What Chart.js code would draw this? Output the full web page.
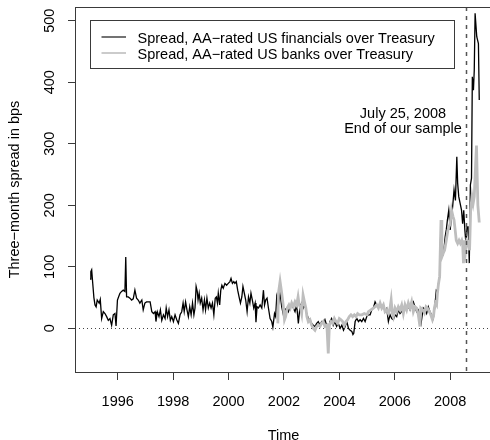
<!DOCTYPE html>
<html>
<head>
<meta charset="utf-8">
<script src="https://cdn.jsdelivr.net/npm/chart.js"></script>
<style>
    html, body { margin: 0; padding: 0; background: #fff; overflow: hidden; }
    #wrap { width: 492px; height: 440px; }
</style>
</head>
<body>
<div id="wrap"><canvas id="spread-chart" width="492" height="440"></canvas></div>
<script>
// Spread, AA-rated US financials over Treasury (bps)
const finYears = [
    1995.00, 1995.03, 1995.06, 1995.10, 1995.14, 1995.18, 1995.22, 1995.26, 1995.33, 1995.37,
    1995.42, 1995.48, 1995.54, 1995.60, 1995.66, 1995.72, 1995.78, 1995.84, 1995.90, 1995.94,
    1995.99, 1996.03, 1996.08, 1996.14, 1996.20, 1996.26, 1996.29, 1996.32, 1996.38, 1996.44,
    1996.50, 1996.56, 1996.62, 1996.68, 1996.74, 1996.80, 1996.87, 1996.92, 1996.98, 1997.04,
    1997.10, 1997.17, 1997.23, 1997.29, 1997.35, 1997.38, 1997.43, 1997.49, 1997.54, 1997.59,
    1997.65, 1997.71, 1997.75, 1997.80, 1997.85, 1997.90, 1997.95, 1998.01, 1998.07, 1998.13,
    1998.19, 1998.25, 1998.31, 1998.36, 1998.40, 1998.45, 1998.50, 1998.55, 1998.60, 1998.65,
    1998.70, 1998.75, 1998.79, 1998.83, 1998.87, 1998.90, 1998.94, 1998.98, 1999.03, 1999.08,
    1999.13, 1999.17, 1999.22, 1999.27, 1999.32, 1999.37, 1999.42, 1999.47, 1999.52, 1999.56,
    1999.60, 1999.63, 1999.68, 1999.72, 1999.76, 1999.81, 1999.87, 1999.93, 1999.99, 2000.05,
    2000.09, 2000.14, 2000.19, 2000.23, 2000.28, 2000.33, 2000.38, 2000.43, 2000.48, 2000.52,
    2000.57, 2000.62, 2000.67, 2000.72, 2000.77, 2000.81, 2000.86, 2000.91, 2000.96, 2000.99,
    2001.03, 2001.08, 2001.14, 2001.20, 2001.26, 2001.30, 2001.34, 2001.39, 2001.44, 2001.50,
    2001.56, 2001.60, 2001.66, 2001.70, 2001.74, 2001.80, 2001.86, 2001.92, 2001.98, 2002.04,
    2002.10, 2002.16, 2002.22, 2002.28, 2002.34, 2002.40, 2002.46, 2002.52, 2002.58, 2002.64,
    2002.70, 2002.76, 2002.82, 2002.88, 2002.94, 2003.00, 2003.06, 2003.12, 2003.18, 2003.24,
    2003.30, 2003.36, 2003.42, 2003.48, 2003.54, 2003.60, 2003.66, 2003.72, 2003.78, 2003.84,
    2003.90, 2003.96, 2004.03, 2004.09, 2004.15, 2004.21, 2004.27, 2004.33, 2004.39, 2004.45,
    2004.49, 2004.52, 2004.57, 2004.63, 2004.69, 2004.75, 2004.81, 2004.87, 2004.93, 2004.99,
    2005.05, 2005.11, 2005.17, 2005.23, 2005.29, 2005.35, 2005.41, 2005.47, 2005.53, 2005.59,
    2005.65, 2005.71, 2005.77, 2005.83, 2005.89, 2005.95, 2006.01, 2006.07, 2006.13, 2006.19,
    2006.25, 2006.31, 2006.37, 2006.43, 2006.49, 2006.55, 2006.61, 2006.67, 2006.73, 2006.79,
    2006.85, 2006.91, 2006.95, 2007.03, 2007.09, 2007.15, 2007.21, 2007.27, 2007.33, 2007.39,
    2007.44, 2007.50, 2007.54, 2007.58, 2007.62, 2007.67, 2007.70, 2007.74, 2007.78, 2007.82,
    2007.86, 2007.90, 2007.95, 2008.00, 2008.05, 2008.09, 2008.14, 2008.19, 2008.24, 2008.27,
    2008.31, 2008.36, 2008.41, 2008.45, 2008.49, 2008.53, 2008.57, 2008.61, 2008.65, 2008.69,
    2008.73, 2008.77, 2008.80, 2008.84, 2008.87, 2008.90, 2008.96, 2009.02, 2009.05
];
const finSpread = [
    80, 92, 95, 72, 50, 38, 35, 46, 41, 47,
    16, 27, 24, 19, 13, 16, 5, 22, 24, 4,
    46, 51, 57, 60, 62, 60, 116, 51, 51, 49,
    46, 48, 62, 49, 46, 41, 46, 30, 41, 43,
    43, 43, 27, 24, 27, 11, 27, 19, 30, 13,
    22, 16, 33, 19, 30, 13, 19, 11, 22, 14,
    8, 22, 27, 41, 27, 43, 30, 19, 35, 22,
    41, 22, 33, 68, 60, 46, 57, 41, 49, 30,
    46, 30, 49, 33, 41, 33, 41, 22, 49, 51,
    41, 57, 38, 62, 70, 65, 73, 70, 73, 76,
    81, 73, 76, 73, 76, 62, 51, 41, 51, 68,
    57, 46, 27, 51, 41, 57, 46, 33, 41, 10,
    35, 33, 38, 33, 62, 38, 46, 49, 33, 16,
    11, 2, 24, 19, 51, 38, 57, 35, 22, 30,
    33, 27, 35, 38, 33, 27, 38, 8, 35, 41,
    33, 38, 24, 16, 14, 8, 5, 3, 8, 11,
    5, 11, 8, 14, 5, -3, 11, 16, 5, 11,
    3, 8, 0, 5, -3, 3, 11, 0, -3, -5,
    -10, -8, 11, 16, 11, 14, 11, 16, 11, 19,
    22, 22, 30, 33, 43, 38, 35, 41, 32, 38,
    27, 32, 11, 22, 16, 14, 22, 19, 30, 24,
    27, 32, 35, 30, 35, 30, 38, 43, 35, 27,
    30, 16, 8, 33, 30, 24, 35, 27, 22, 16,
    33, 62, 60, 73, 84, 176, 116, 119, 130, 149,
    160, 176, 192, 160, 181, 198, 225, 208, 279, 236,
    214, 203, 192, 170, 192, 160, 138, 165, 165, 106,
    233, 244, 409, 387, 420, 512, 474, 463, 371
];

// Spread, AA-rated US banks over Treasury (bps)
const bankYears = [
    2001.78, 2001.80, 2001.86, 2001.92, 2001.98, 2002.02, 2002.06, 2002.12, 2002.18, 2002.23,
    2002.28, 2002.34, 2002.40, 2002.46, 2002.51, 2002.55, 2002.60, 2002.64, 2002.69, 2002.74,
    2002.79, 2002.83, 2002.88, 2002.94, 2003.00, 2003.06, 2003.12, 2003.18, 2003.24, 2003.30,
    2003.36, 2003.42, 2003.48, 2003.55, 2003.60, 2003.64, 2003.70, 2003.76, 2003.82, 2003.88,
    2003.94, 2004.00, 2004.06, 2004.12, 2004.18, 2004.24, 2004.30, 2004.36, 2004.42, 2004.48,
    2004.54, 2004.60, 2004.66, 2004.72, 2004.81, 2004.90, 2005.00, 2005.05, 2005.14, 2005.23,
    2005.29, 2005.35, 2005.41, 2005.47, 2005.53, 2005.59, 2005.65, 2005.71, 2005.77, 2005.83,
    2005.87, 2005.91, 2005.95, 2006.01, 2006.07, 2006.13, 2006.19, 2006.25, 2006.31, 2006.37,
    2006.43, 2006.49, 2006.55, 2006.61, 2006.67, 2006.73, 2006.79, 2006.85, 2006.91, 2006.94,
    2007.01, 2007.07, 2007.13, 2007.19, 2007.25, 2007.30, 2007.36, 2007.40, 2007.43, 2007.47,
    2007.51, 2007.54, 2007.58, 2007.62, 2007.67, 2007.70, 2007.75, 2007.80, 2007.86, 2007.92,
    2008.00, 2008.05, 2008.10, 2008.14, 2008.18, 2008.22, 2008.27, 2008.32, 2008.37, 2008.42,
    2008.45, 2008.48, 2008.52, 2008.56, 2008.60, 2008.65, 2008.70, 2008.74, 2008.79, 2008.83,
    2008.87, 2008.92, 2008.95, 2009.00, 2009.05
];
const bankSpread = [
    8, 57, 76, 57, 35, 14, 19, 33, 38, 33,
    41, 35, 43, 38, 51, 38, 33, 24, 54, 43,
    33, 19, 11, 14, 5, 0, -3, 3, 5, 3,
    8, 11, 3, 5, -41, 5, 11, 8, 16, 11,
    8, 16, 14, 11, 5, 11, 14, 19, 22, 19,
    22, 19, 24, 22, 22, 24, 22, 27, 30, 33,
    35, 38, 33, 41, 33, 38, 27, 30, 24, 33,
    46, 25, 19, 33, 27, 35, 30, 38, 24, 38,
    30, 41, 33, 43, 27, 35, 33, 22, 3, 33,
    30, 25, 35, 32, 27, 22, 14, 20, 33, 41,
    38, 57, 73, 84, 176, 116, 122, 127, 143, 160,
    170, 192, 182, 176, 160, 143, 138, 143, 138, 143,
    138, 106, 143, 127, 143, 140, 127, 192, 214, 203,
    214, 268, 297, 200, 172
];

const yearTicks = [1996, 1998, 2000, 2002, 2004, 2006, 2008];
const spreadTicks = [0, 100, 200, 300, 400, 500];
const seriesLabels = [
    'Spread, AA\u2212rated US financials over Treasury',
    'Spread, AA\u2212rated US banks over Treasury'
];
const sampleEnd = 2008.563; // July 25, 2008
const noteLines = ['July 25, 2008', 'End of our sample'];

const FONT = '14.5px "Liberation Sans", Arial, Helvetica, sans-serif';
const AXIS_COLOR = '#3a3a3a';
const BANK_COLOR = '#bebebe';

function toPoints(xs, ys) {
    return xs.map((x, i) => ({ x: x, y: ys[i] }));
}

const overlayPlugin = {
    id: 'overlay',
    beforeDatasetsDraw(chart) {
        const ctx = chart.ctx;
        const area = chart.chartArea;
        const y0 = Math.round(chart.scales.y.getPixelForValue(0)) + 0.5;
        ctx.save();
        ctx.strokeStyle = '#444';
        ctx.lineWidth = 1;
        ctx.setLineDash([1, 3]);
        ctx.beginPath();
        ctx.moveTo(area.left, y0);
        ctx.lineTo(area.right, y0);
        ctx.stroke();
        ctx.restore();
    },
    afterDraw(chart) {
        const ctx = chart.ctx;
        const area = chart.chartArea;
        const xs = chart.scales.x;
        const ys = chart.scales.y;
        ctx.save();

        // sample end marker
        const xe = Math.round(xs.getPixelForValue(sampleEnd)) + 0.5;
        ctx.strokeStyle = '#555';
        ctx.lineWidth = 1.5;
        ctx.setLineDash([4, 5]);
        ctx.beginPath();
        ctx.moveTo(xe, area.top);
        ctx.lineTo(xe, area.bottom);
        ctx.stroke();
        ctx.setLineDash([]);

        // plot box
        ctx.strokeStyle = AXIS_COLOR;
        ctx.lineWidth = 1;
        ctx.strokeRect(Math.round(area.left) + 0.5, Math.round(area.top) + 0.5,
            Math.round(area.right - area.left), Math.round(area.bottom - area.top));

        ctx.fillStyle = '#000';
        ctx.font = FONT;
        ctx.textBaseline = 'alphabetic';

        // x tick labels
        ctx.textAlign = 'center';
        xs.ticks.forEach(t => {
            ctx.fillText(String(t.value), xs.getPixelForValue(t.value), 405.5);
        });

        // y tick labels, vertical
        ys.ticks.forEach(t => {
            ctx.save();
            ctx.translate(53.5, ys.getPixelForValue(t.value));
            ctx.rotate(-Math.PI / 2);
            ctx.fillText(String(t.value), 0, 0);
            ctx.restore();
        });

        // axis titles
        ctx.fillText('Time', (area.left + area.right) / 2, 439.5);
        ctx.save();
        ctx.translate(19, (area.top + area.bottom) / 2);
        ctx.rotate(-Math.PI / 2);
        ctx.fillText('Three\u2212month spread in bps', 0, 0);
        ctx.restore();

        // note next to the marker
        ctx.fillText(noteLines[0], 403, 117.5);
        ctx.fillText(noteLines[1], 403, 132.5);

        // legend
        ctx.fillStyle = '#fff';
        ctx.fillRect(90.5, 20.5, 364, 48);
        ctx.strokeStyle = AXIS_COLOR;
        ctx.lineWidth = 1;
        ctx.strokeRect(90.5, 20.5, 364, 48);
        ctx.lineWidth = 1.1;
        ctx.strokeStyle = '#000';
        ctx.beginPath();
        ctx.moveTo(101.5, 37);
        ctx.lineTo(126, 37);
        ctx.stroke();
        ctx.lineWidth = 1.6;
        ctx.strokeStyle = BANK_COLOR;
        ctx.beginPath();
        ctx.moveTo(101.5, 53);
        ctx.lineTo(126, 53);
        ctx.stroke();
        ctx.fillStyle = '#000';
        ctx.textAlign = 'left';
        ctx.fillText(seriesLabels[0], 137.5, 42.7);
        ctx.fillText(seriesLabels[1], 137.5, 58.7);

        ctx.restore();
    }
};

const chart = new Chart(document.getElementById('spread-chart'), {
    type: 'scatter',
    data: {
        datasets: [
            {
                label: seriesLabels[0],
                data: toPoints(finYears, finSpread),
                showLine: true,
                borderColor: '#000',
                borderWidth: 1.3,
                pointRadius: 0,
                tension: 0,
                order: 2
            },
            {
                label: seriesLabels[1],
                data: toPoints(bankYears, bankSpread),
                showLine: true,
                borderColor: BANK_COLOR,
                borderWidth: 2.8,
                pointRadius: 0,
                tension: 0,
                order: 1
            }
        ]
    },
    options: {
        responsive: false,
        animation: false,
        devicePixelRatio: 1,
        layout: { padding: { top: 7, left: 0, right: 0, bottom: 0 } },
        plugins: {
            legend: { display: false },
            tooltip: { enabled: false }
        },
        scales: {
            x: {
                type: 'linear',
                min: 1994.458,
                max: 2009.51,
                afterBuildTicks: (s) => { s.ticks = yearTicks.map(v => ({ value: v })); },
                afterFit: (s) => { s.height = 68; },
                ticks: { display: false },
                border: { display: false },
                grid: { drawOnChartArea: false, drawTicks: true, tickLength: 8, color: AXIS_COLOR }
            },
            y: {
                min: -71,
                max: 522.3,
                afterBuildTicks: (s) => { s.ticks = spreadTicks.map(v => ({ value: v })); },
                afterFit: (s) => { s.width = 75; },
                ticks: { display: false },
                border: { display: false },
                grid: { drawOnChartArea: false, drawTicks: true, tickLength: 7, color: AXIS_COLOR }
            }
        }
    },
    plugins: [overlayPlugin]
});
</script>
</body>
</html>
